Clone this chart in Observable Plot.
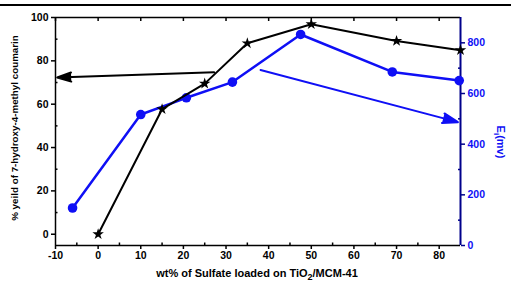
<!DOCTYPE html>
<html><head><meta charset="utf-8">
<script src="https://cdn.jsdelivr.net/npm/d3@7"></script>
<script src="https://cdn.jsdelivr.net/npm/@observablehq/plot@0.6"></script>
<style>
body{margin:0;background:#fff;}
#wrap{position:relative;width:511px;height:282px;}
#topline{position:absolute;left:0;top:4px;width:511px;height:2px;background:#000;}
</style>
</head><body>
<div id="wrap"><div id="topline"></div></div>
<script>
// x values (wt% sulfate) and yield (%)
const yieldX = [0, 15, 25, 35, 50, 70, 85];
const yieldY = [0, 57.7, 69.5, 88.1, 96.9, 89.2, 84.9];
// Ei (mV) series
const eX = [-6, 10, 20.7, 31.5, 47.5, 69, 84.7];
const eY = [148, 517, 583, 645, 833, 685, 651];
// tick labels
const xTicks = [-10, 0, 10, 20, 30, 40, 50, 60, 70, 80];
const xMinor = [-5, 5, 15, 25, 35, 45, 55, 65, 75];
const yTicks = [0, 20, 40, 60, 80, 100];
const yMinor = [10, 30, 50, 70, 90];
const eTicks = [0, 200, 400, 600, 800];
const eMinor = [100, 300, 500, 700];
// arrows: black points to left axis, blue to right axis
const arrowBlack = [{x1: 27.2, y1: 74.7, x2: -9.6, y2: 72.3}];
const arrowBlue = [{x1: 38.1, e1: 693, x2: 84.4, e2: 487}];

const yMin = -5.2, yMax = 100, eMax = 900;
const toY = d3.scaleLinear().domain([0, eMax]).range([yMin, yMax]);
const blue = "#0f0ff5";
const navy = "#00008b";

const yieldData = yieldX.map((x, i) => ({x, y: yieldY[i]}));
const eData = eX.map((x, i) => ({x, y: toY(eY[i])}));
const blueArrow = arrowBlue.map(d => ({x1: d.x1, y1: toY(d.e1), x2: d.x2, y2: toY(d.e2)}));

const plot = Plot.plot({
  width: 511, height: 282,
  marginLeft: 55, marginRight: 51, marginTop: 17, marginBottom: 37,
  x: {domain: [-10, 85]},
  y: {domain: [yMin, yMax]},
  style: {fontFamily: "'Liberation Sans', Arial, sans-serif", fontSize: "10.5px", fontWeight: "bold", color: "black", background: "transparent"},
  marks: [
    Plot.ruleY([yMax], {stroke: "black", strokeWidth: 1.5}),
    Plot.axisX({ticks: xTicks, tickFormat: d => String(d), tickSize: 4, tickPadding: 2, label: null, strokeWidth: 1.5}),
    Plot.axisX({ticks: xMinor, tickSize: -2.5, text: null, label: null, strokeWidth: 1.5}),
    Plot.axisX({anchor: "top", ticks: xTicks, tickSize: -3, text: null, label: null, strokeWidth: 1.5}),
    Plot.axisY({ticks: yTicks, tickFormat: d => String(d), tickSize: 4, tickPadding: 3, label: null, strokeWidth: 1.5}),
    Plot.axisY({ticks: yMinor, tickSize: -2.5, text: null, label: null, strokeWidth: 1.5}),
    Plot.axisY({anchor: "right", ticks: eTicks.map(v => toY(v)), tickFormat: d => String(Math.round(toY.invert(d))),
      tickSize: 4, tickPadding: 3, label: null, stroke: navy, fill: blue, strokeWidth: 1.5}),
    Plot.axisY({anchor: "right", ticks: eMinor.map(v => toY(v)), tickSize: -3, text: null, label: null, stroke: navy, strokeWidth: 1.5}),
    Plot.ruleX([-10], {stroke: "black", strokeWidth: 1.5}),
    Plot.ruleY([yMin], {stroke: "black", strokeWidth: 1.5}),
    Plot.ruleX([85], {stroke: navy, strokeWidth: 2}),
    Plot.line(eData, {x: "x", y: "y", stroke: blue, strokeWidth: 2.5}),
    Plot.dot(eData, {x: "x", y: "y", r: 4.8, fill: blue, stroke: null}),
    Plot.line(yieldData, {x: "x", y: "y", stroke: "black", strokeWidth: 2}),
    Plot.dot(yieldData, {x: "x", y: "y", symbol: "star", r: 3.6, fill: "black", stroke: null}),
    Plot.arrow(arrowBlack, {x1: "x1", y1: "y1", x2: "x2", y2: "y2", stroke: "black", fill: "black", strokeWidth: 2, headLength: 11, headAngle: 36}),
    Plot.arrow(blueArrow, {x1: "x1", y1: "y1", x2: "x2", y2: "y2", stroke: blue, fill: blue, strokeWidth: 2, headLength: 12, headAngle: 36})
  ]
});

const svg = d3.select(plot);
// make arrowheads solid like the reference
svg.selectAll("g[aria-label='arrow'] path").each(function() {
  const s = this.getAttribute("stroke") || this.parentNode.getAttribute("stroke");
  this.setAttribute("fill", s);
});
// x label with subscript
const xl = svg.append("text").attr("x", 257).attr("y", 277).attr("text-anchor", "middle")
  .style("font-size", "11px").style("font-weight", "bold").attr("fill", "black");
xl.append("tspan").text("wt% of Sulfate loaded on TiO");
xl.append("tspan").attr("dy", 3).style("font-size", "9px").text("2");
xl.append("tspan").attr("dy", -3).text("/MCM-41");
// left y label
svg.append("text").attr("transform", "translate(18,128) rotate(-90)").attr("text-anchor", "middle")
  .style("font-size", "9.8px").style("font-weight", "bold").attr("fill", "black")
  .text("% yeild of 7-hydroxy-4-methyl coumarin");
// right y label
const rl = svg.append("text").attr("transform", "translate(497,142) rotate(90)").attr("text-anchor", "middle")
  .style("font-size", "11px").style("font-weight", "bold").attr("fill", blue);
rl.append("tspan").text("E");
rl.append("tspan").attr("dy", 3).style("font-size", "8px").text("i");
rl.append("tspan").attr("dy", -3).text("(mv)");

plot.style.position = "absolute";
plot.style.left = "0px";
plot.style.top = "0px";
document.getElementById("wrap").appendChild(plot);
</script>
</body></html>
